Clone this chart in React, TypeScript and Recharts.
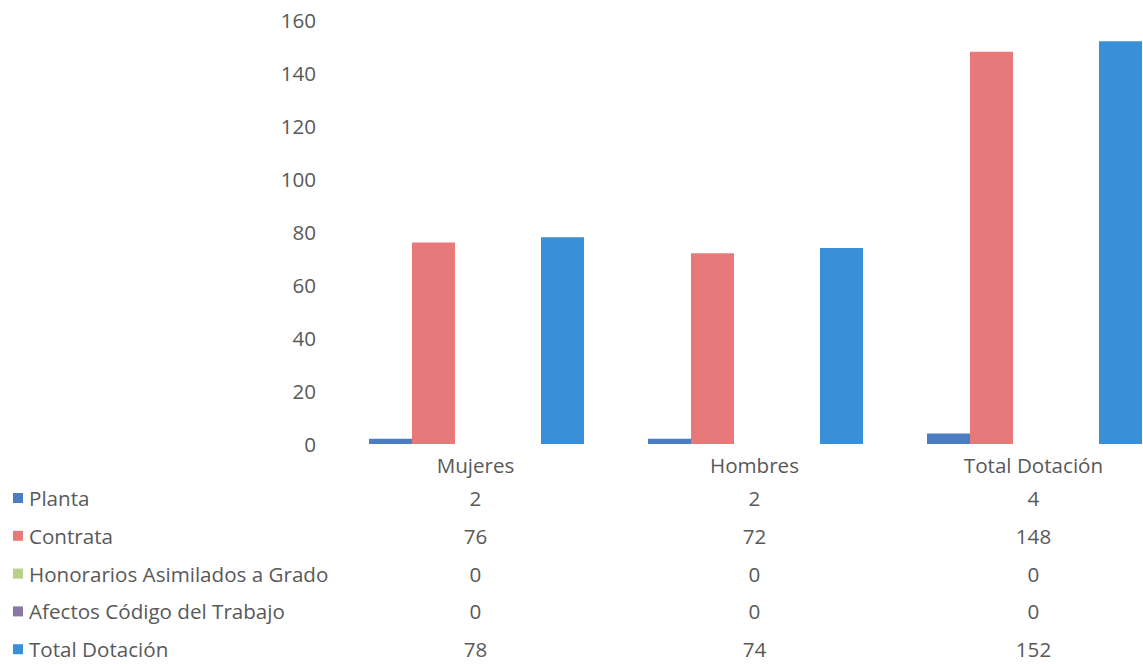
import { BarChart, Bar, XAxis, YAxis } from 'recharts';

const categories = ['Mujeres', 'Hombres', 'Total Dotación'];
const planta = [2, 2, 4];
const contrata = [76, 72, 148];
const honorarios = [0, 0, 0];
const afectos = [0, 0, 0];
const totalDotacion = [78, 74, 152];
const yTicks = [0, 20, 40, 60, 80, 100, 120, 140, 160];

const series = [
  { key: 'Planta', values: planta, color: '#4a7dc3' },
  { key: 'Contrata', values: contrata, color: '#e8797a' },
  { key: 'Honorarios Asimilados a Grado', values: honorarios, color: '#b9d08a' },
  { key: 'Afectos Código del Trabajo', values: afectos, color: '#8a77a8' },
  { key: 'Total Dotación', values: totalDotacion, color: '#3a90d8' },
];

const chartData = categories.map((name, i) => {
  const row: Record<string, string | number> = { name };
  series.forEach(s => { row[s.key] = s.values[i]; });
  return row;
});

const FONT = '"Open Sans", sans-serif';
const FS = 20.6;
const TEXT = '#595959';
const ROW_TOP = 54;
const ROW_STEP = 37.8;

function YTick({ x, y, payload }: any) {
  return (
    <text x={x} y={y} textAnchor="end" dominantBaseline="central" fill={TEXT} fontSize={FS} fontFamily={FONT}>
      {payload.value}
    </text>
  );
}

function TableTick({ x, y, payload, index }: any) {
  return (
    <g>
      <text x={x} y={y + 21} textAnchor="middle" dominantBaseline="central" fill={TEXT} fontSize={FS} fontFamily={FONT}>
        {payload.value}
      </text>
      {series.map((s, r) => (
        <text key={s.key} x={x} y={y + ROW_TOP + r * ROW_STEP} textAnchor="middle" dominantBaseline="central"
          fill={TEXT} fontSize={FS} fontFamily={FONT}>
          {s.values[index]}
        </text>
      ))}
      {index === 0 && series.map((s, r) => (
        <g key={s.key}>
          <rect x={13} y={y + ROW_TOP + r * ROW_STEP - 5} width={10} height={10} fill={s.color} />
          <text x={29} y={y + ROW_TOP + r * ROW_STEP} dominantBaseline="central" fill={TEXT} fontSize={FS} fontFamily={FONT}>
            {s.key}
          </text>
        </g>
      ))}
    </g>
  );
}

export default function App() {
  return (
    <div style={{ width: 1143, height: 665, overflow: 'hidden', position: 'relative', background: '#fff' }}>
      <style>{'body{margin:0}'}</style>
      <BarChart width={1173} height={665} data={chartData} margin={{ top: 20, right: 0, left: 0, bottom: 0 }}
        barCategoryGap={33} barGap={0}>
        <XAxis dataKey="name" height={221} axisLine={false} tickLine={false} tickSize={0} tickMargin={0}
          tick={<TableTick />} interval={0} />
        <YAxis width={336} domain={[0, 160]} ticks={yTicks} axisLine={false} tickLine={false}
          tickSize={0} tickMargin={20} tick={<YTick />} />
        {series.map(s => (
          <Bar key={s.key} dataKey={s.key} fill={s.color} isAnimationActive={false} />
        ))}
      </BarChart>
    </div>
  );
}
